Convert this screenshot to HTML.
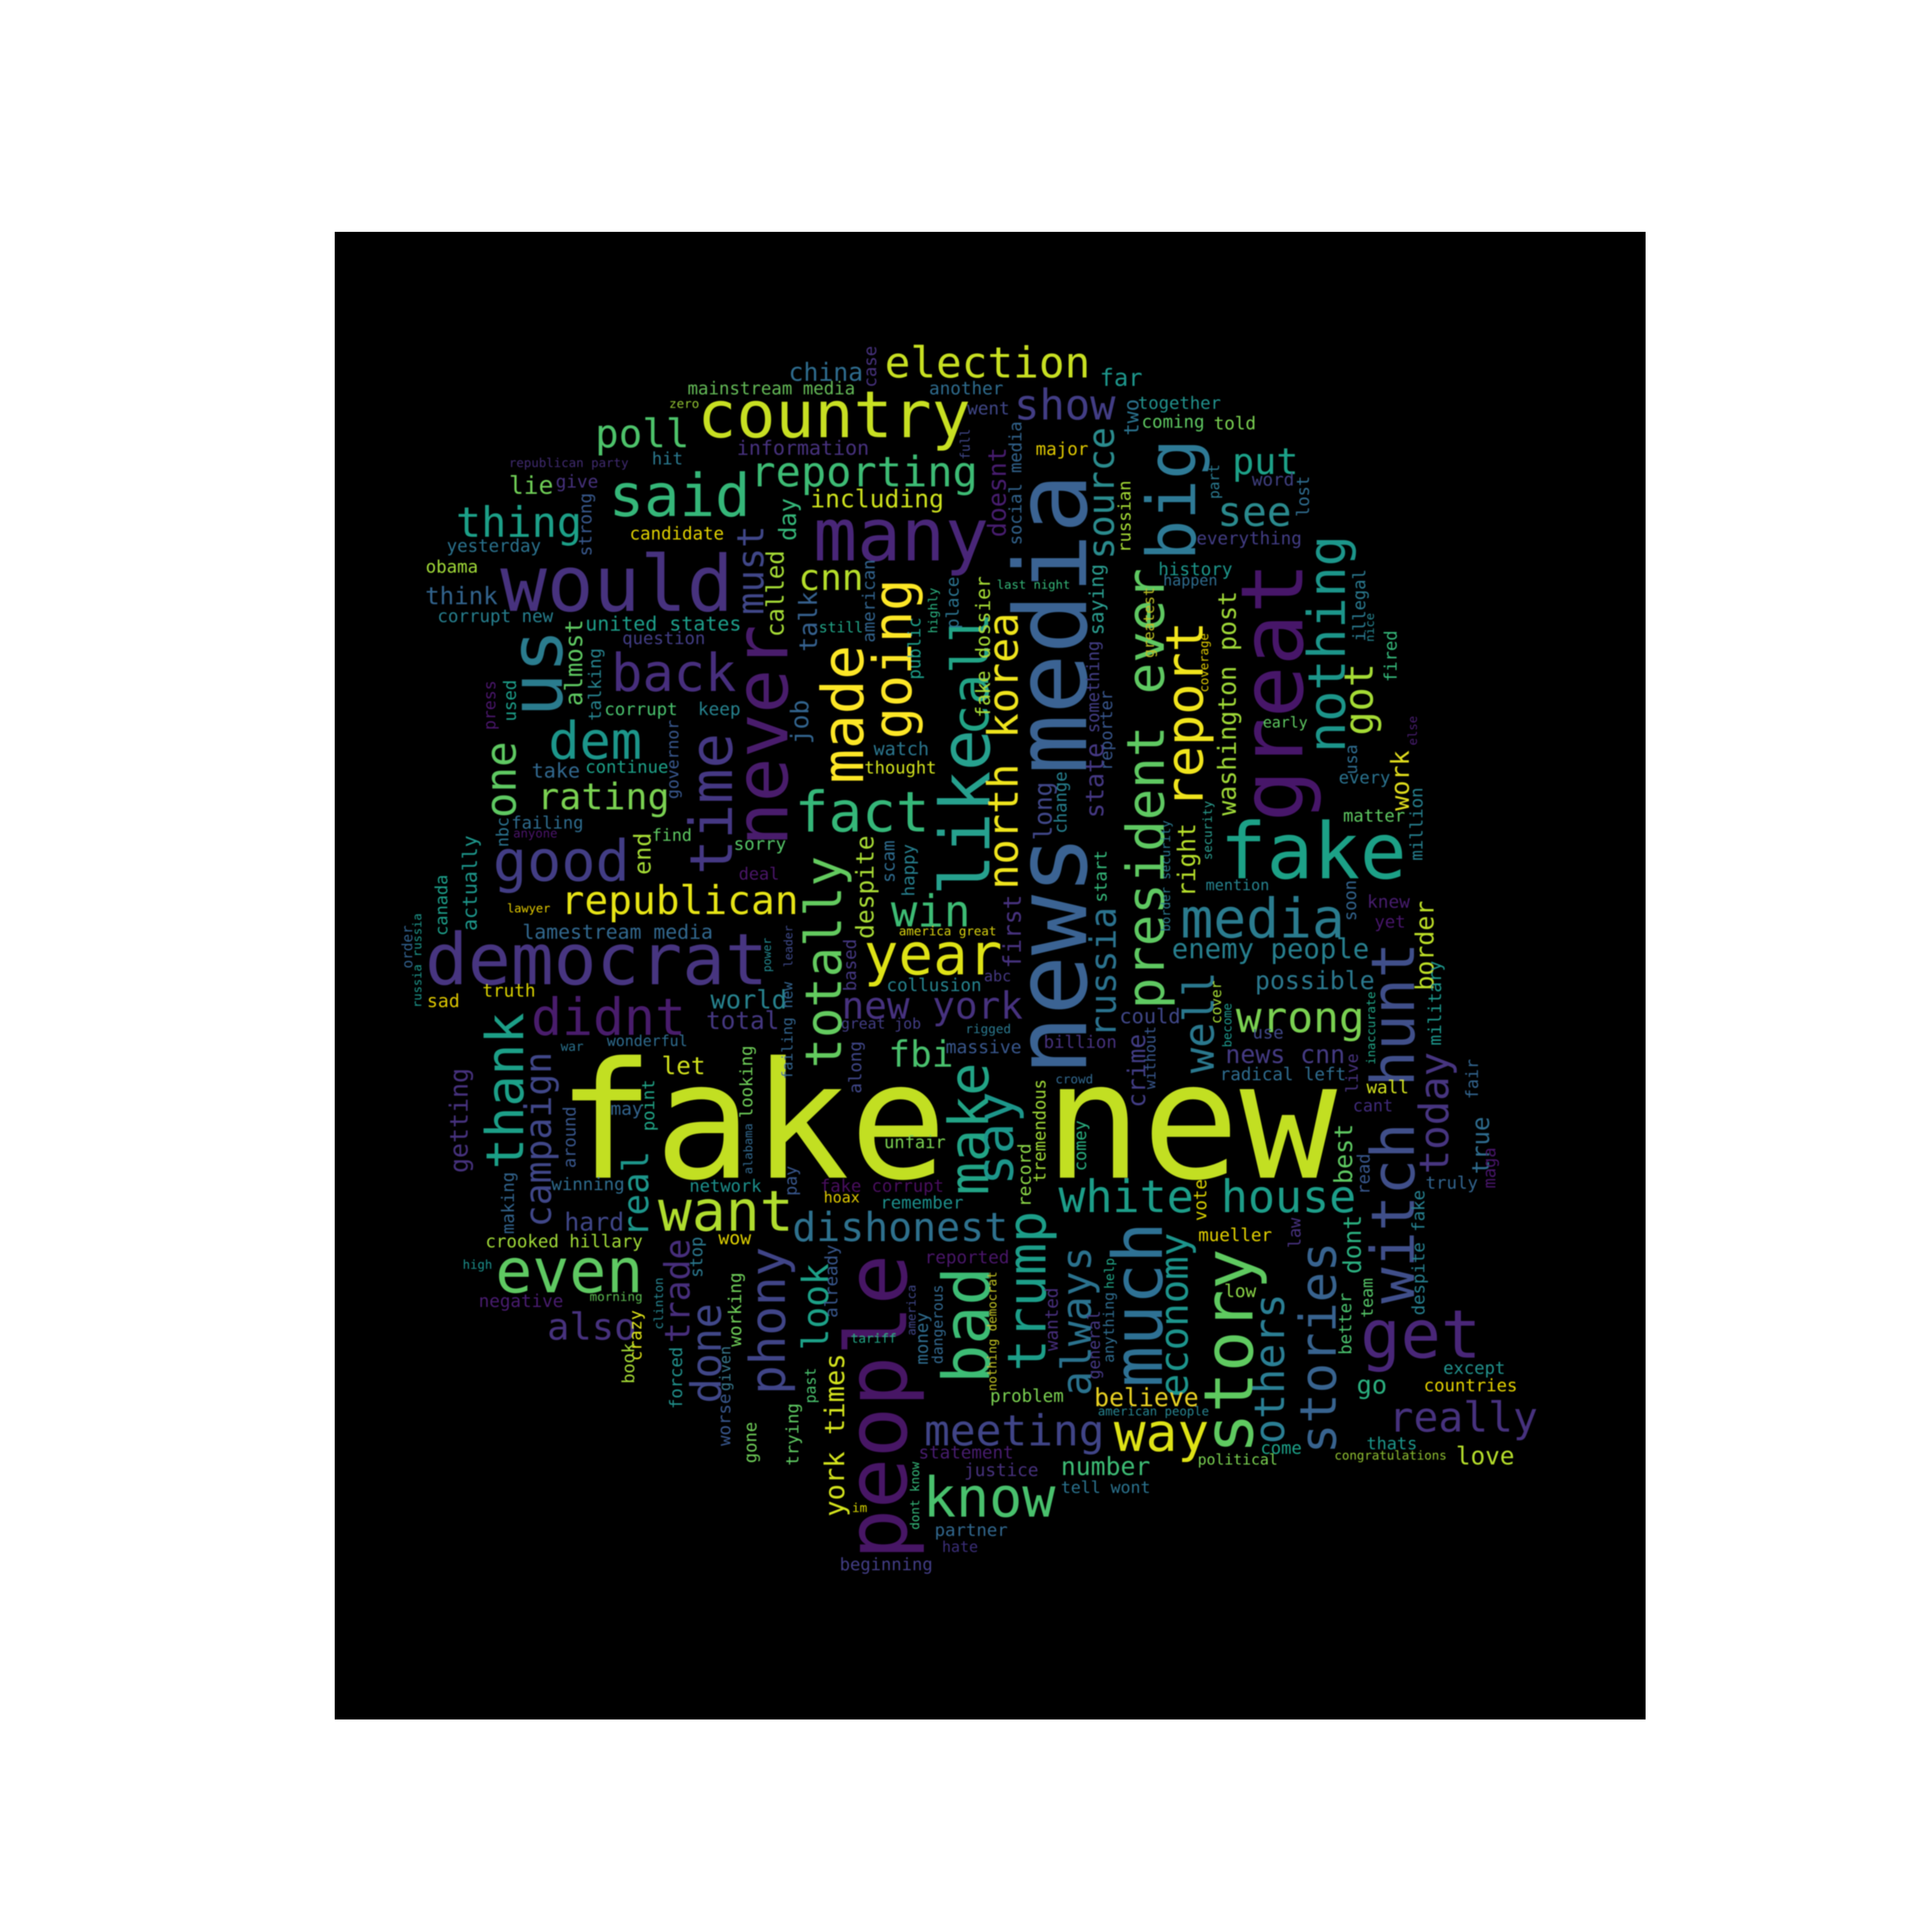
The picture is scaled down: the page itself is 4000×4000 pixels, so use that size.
<!DOCTYPE html>
<html lang="en">
<head>
<meta charset="utf-8">
<title>Word cloud</title>
<style>
html,body{margin:0;padding:0;background:#fff;width:4000px;height:4000px;overflow:hidden}
svg{display:block}
text{font-family:"DejaVu Sans Mono","Liberation Mono",monospace;white-space:pre}
</style>
</head>
<body>
<svg xmlns="http://www.w3.org/2000/svg" width="4000" height="4000" viewBox="0 0 4000 4000">
<defs><filter id="soft" x="0" y="0" width="1" height="1" filterUnits="objectBoundingBox"><feGaussianBlur stdDeviation="0.4"/></filter></defs>
<rect width="4000" height="4000" fill="#ffffff"/>
<rect x="693" y="480" width="2714" height="3080" fill="#000000"/>
<g id="words" transform="scale(2.55102)" filter="url(#soft)">
<text x="452" y="955.8" font-size="129" fill="#c2df23">fake new</text>
<text transform="translate(881.5 873) rotate(-90)" font-size="80" fill="#3a6493">news media</text>
<text transform="translate(735.5 1266) rotate(-90)" font-size="67" fill="#471365">people</text>
<text transform="translate(1057 667) rotate(-90)" font-size="68" fill="#471569">great</text>
<text x="990" y="712.8" font-size="60.6" fill="#1fa187">fake</text>
<text x="406" y="495.8" font-size="61" fill="#46327e">would</text>
<text x="345" y="798.8" font-size="56.7" fill="#463480">democrat</text>
<text x="660" y="454.8" font-size="57" fill="#482878">many</text>
<text transform="translate(639 687) rotate(-90)" font-size="58" fill="#481a6c">never</text>
<text transform="translate(803 727) rotate(-90)" font-size="54" fill="#25a18e">like</text>
<text x="566" y="354.8" font-size="51.5" fill="#c8e020">country</text>
<text transform="translate(1016.5 1180) rotate(-90)" font-size="53.7" fill="#5fca61">story</text>
<text transform="translate(943 1126) rotate(-90)" font-size="53.7" fill="#2f7194">much</text>
<text x="1104" y="1101.8" font-size="51.6" fill="#482878">get</text>
<text transform="translate(970 455) rotate(-90)" font-size="52" fill="#2f7a96">big</text>
<text transform="translate(802.8 1123) rotate(-90)" font-size="50" fill="#3dbc74">bad</text>
<text x="402" y="1048.8" font-size="48" fill="#5ec962">even</text>
<text transform="translate(1147.6 1058) rotate(-90)" font-size="48" fill="#414f8a">witch hunt</text>
<text x="494" y="418.8" font-size="46" fill="#35b779">said</text>
<text transform="translate(594 710) rotate(-90)" font-size="46" fill="#443983">time</text>
<text transform="translate(700.6 636) rotate(-90)" font-size="45" fill="#fde725">made</text>
<text x="701" y="790.8" font-size="45" fill="#dfe318">year</text>
<text x="534" y="998.8" font-size="44" fill="#b0dd2f">want</text>
<text x="400" y="714.8" font-size="44.4" fill="#433e85">good</text>
<text x="645" y="674.8" font-size="43.75" fill="#35b779">fact</text>
<text x="958" y="760.8" font-size="43" fill="#2c7c8f">media</text>
<text x="749" y="1230.9" font-size="43" fill="#4ac16d">know</text>
<text transform="translate(802 970) rotate(-90)" font-size="43" fill="#20a486">make</text>
<text transform="translate(739.6 600) rotate(-90)" font-size="42" fill="#fde725">going</text>
<text transform="translate(848.5 1113) rotate(-90)" font-size="42" fill="#1f9e89">trump</text>
<text transform="translate(944.5 819) rotate(-90)" font-size="42" fill="#5ec962">president ever</text>
<text transform="translate(976 656) rotate(-90)" font-size="41" fill="#f1e51d">report</text>
<text transform="translate(1091.5 611) rotate(-90)" font-size="41" fill="#1f968b">nothing</text>
<text transform="translate(424.6 949) rotate(-90)" font-size="41" fill="#1fa088">thank</text>
<text x="904" y="1177.6" font-size="40.7" fill="#dfe318">way</text>
<text x="496" y="560.8" font-size="40.6" fill="#472f7d">back</text>
<text x="431" y="839.8" font-size="40.5" fill="#481a6c">didnt</text>
<text transform="translate(682.6 867) rotate(-90)" font-size="40" fill="#63cb5f">totally</text>
<text x="445" y="615.8" font-size="40" fill="#1f968b">dem</text>
<text transform="translate(802 597) rotate(-90)" font-size="40" fill="#20a486">call</text>
<text transform="translate(822 962) rotate(-90)" font-size="40" fill="#1f968b">say</text>
<text transform="translate(1084 1180) rotate(-90)" font-size="40" fill="#38648f">stories</text>
<text transform="translate(637 1132) rotate(-90)" font-size="38.7" fill="#414487">phony</text>
<text x="859" y="983.8" font-size="36" fill="#1f9e89">white house</text>
<text x="718" y="306.4" font-size="34" fill="#c8e020">election</text>
<text x="750" y="1173" font-size="34" fill="#414487">meeting</text>
<text x="723" y="751.8" font-size="34" fill="#3dbc74">win</text>
<text x="609" y="394.8" font-size="33.5" fill="#3dbc74">reporting</text>
<text transform="translate(826 722) rotate(-90)" font-size="33.5" fill="#f0e51d">north korea</text>
<text x="1003" y="837.8" font-size="33.7" fill="#7ad151">wrong</text>
<text x="370" y="435.8" font-size="33" fill="#1fa088">thing</text>
<text x="823" y="340.4" font-size="32.9" fill="#433e85">show</text>
<text transform="translate(1042.2 1172) rotate(-90)" font-size="33" fill="#2c7f94">others</text>
<text transform="translate(985 871) rotate(-90)" font-size="33" fill="#2a788e">well</text>
<text transform="translate(418.6 664) rotate(-90)" font-size="32.8" fill="#5ec962">one</text>
<text transform="translate(885.4 1133) rotate(-90)" font-size="32.8" fill="#2c728e">always</text>
<text x="1127" y="1161.9" font-size="32.7" fill="#46327e">really</text>
<text transform="translate(585 1139) rotate(-90)" font-size="32.5" fill="#3f4788">done</text>
<text transform="translate(1175.5 953) rotate(-90)" font-size="32" fill="#463480">today</text>
<text x="643" y="1007.2" font-size="31.8" fill="#2d718e">dishonest</text>
<text x="988" y="426.8" font-size="31.7" fill="#2a8a8e">see</text>
<text x="455" y="741.8" font-size="31.6" fill="#e7e419">republican</text>
<text transform="translate(964 1134) rotate(-90)" font-size="31" fill="#1f948c">economy</text>
<text transform="translate(1114 597) rotate(-90)" font-size="31" fill="#a5db36">got</text>
<text x="483" y="363" font-size="30.6" fill="#4ec36b">poll</text>
<text x="683" y="826.8" font-size="30" fill="#46337f">new york</text>
<text transform="translate(904 454) rotate(-90)" font-size="29" fill="#2b8c8e">source</text>
<text x="436" y="656.8" font-size="29" fill="#7ad151">rating</text>
<text transform="translate(447 996) rotate(-90)" font-size="29" fill="#3f4788">campaign</text>
<text x="444" y="1087.2" font-size="29" fill="#46327e">also</text>
<text transform="translate(619.6 499) rotate(-90)" font-size="29" fill="#3f4788">must</text>
<text transform="translate(905.5 842) rotate(-90)" font-size="28.6" fill="#2c728e">russia</text>
<text transform="translate(672 1096) rotate(-90)" font-size="28.3" fill="#1fa188">look</text>
<text x="1000" y="384.8" font-size="28.3" fill="#1fa188">put</text>
<text transform="translate(526 1004) rotate(-90)" font-size="28" fill="#1f968b">real</text>
<text x="648" y="478.8" font-size="27.8" fill="#b5de2b">cnn</text>
<text x="721" y="865.8" font-size="27.8" fill="#4ac16d">fbi</text>
<text transform="translate(559.6 1090) rotate(-90)" font-size="27.3" fill="#472d7b">trade</text>
<text transform="translate(456 582) rotate(-90)" font-size="55" fill="#2b7c8e">us</text>
<text x="951" y="777.8" font-size="21.9" fill="#277f8e">enemy people</text>
<text transform="translate(685 1231) rotate(-90)" font-size="21.7" fill="#d2e21b">york times</text>
<text transform="translate(1003 662) rotate(-90)" font-size="20" fill="#a0da39">washington post</text>
<text x="576.6" y="818.4" font-size="20" fill="#26828e">world</text>
<text x="640" y="309" font-size="19.5" fill="#2f6c8e">china</text>
<text x="888" y="1141.4" font-size="19.7" fill="#e8d020">believe</text>
<text x="657.6" y="411.8" font-size="19.7" fill="#cde11d">including</text>
<text transform="translate(1163.5 804) rotate(-90)" font-size="19.7" fill="#bddf26">border</text>
<text transform="translate(816.4 436) rotate(-90)" font-size="19.7" fill="#471d6e">doesnt</text>
<text transform="translate(895.6 664) rotate(-90)" font-size="19.7" fill="#443983">state</text>
<text transform="translate(709 762) rotate(-90)" font-size="19.5" fill="#a8db34">despite</text>
<text x="861" y="1197.2" font-size="19.6" fill="#3dbc74">number</text>
<text transform="translate(1097.5 961) rotate(-90)" font-size="19.6" fill="#5ec962">best</text>
<text transform="translate(1143.4 658) rotate(-90)" font-size="19.6" fill="#dfdb1a">work</text>
<text transform="translate(663 529) rotate(-90)" font-size="19.6" fill="#35608d">talk</text>
<text transform="translate(379.5 952) rotate(-90)" font-size="19.8" fill="#46327e">getting</text>
<text x="1018.5" y="802.8" font-size="19.8" fill="#2a788e">possible</text>
<text x="994.5" y="862.8" font-size="19.8" fill="#443a83">news cnn</text>
<text x="458" y="998.8" font-size="19.4" fill="#3f4788">hard</text>
<text transform="translate(828.4 786) rotate(-90)" font-size="19.3" fill="#46327e">first</text>
<text transform="translate(970 728) rotate(-90)" font-size="19.3" fill="#b5de2b">right</text>
<text transform="translate(929.5 899) rotate(-90)" font-size="19.3" fill="#433e85">crime</text>
<text x="573" y="835.2" font-size="19.2" fill="#453781">total</text>
<text transform="translate(1104.4 1034) rotate(-90)" font-size="19.2" fill="#29af7f">dont</text>
<text x="345" y="490.4" font-size="19" fill="#33638d">think</text>
<text x="413" y="400.8" font-size="19" fill="#6fcf57">lie</text>
<text transform="translate(636 517) rotate(-90)" font-size="19" fill="#a5db36">called</text>
<text transform="translate(472.6 573) rotate(-90)" font-size="19" fill="#5ec962">almost</text>
<text transform="translate(656 604) rotate(-90)" font-size="19" fill="#33638d">job</text>
<text transform="translate(853.6 682) rotate(-90)" font-size="19" fill="#3f4788">long</text>
<text x="1101" y="1131.2" font-size="19" fill="#29af7f">go</text>
<text x="1181.6" y="1188.6" font-size="19" fill="#b5de2b">love</text>
<text transform="translate(1208.5 953) rotate(-90)" font-size="18.7" fill="#2f6c8e">true</text>
<text x="537" y="871.8" font-size="18.7" fill="#d2e21b">let</text>
<text x="892.5" y="313.2" font-size="18.3" fill="#1f968b">far</text>
<text transform="translate(646 439) rotate(-90)" font-size="18.3" fill="#35b779">day</text>
<text transform="translate(528 710) rotate(-90)" font-size="18" fill="#a5db36">end</text>
<text x="475" y="511.8" font-size="16" fill="#1f9e89">united states</text>
<text x="598" y="369" font-size="16" fill="#46327e">information</text>
<text x="424" y="761.8" font-size="15.9" fill="#31688e">lamestream media</text>
<text x="908.5" y="830.4" font-size="16" fill="#3f4788">could</text>
<text transform="translate(387 755.5) rotate(-90)" font-size="15.8" fill="#1f968b">actually</text>
<text x="431.5" y="631.2" font-size="15.7" fill="#31688e">take</text>
<text transform="translate(803.5 582.5) rotate(-90)" font-size="15.7" fill="#a5db36">fake dossier</text>
<text transform="translate(895.5 515.5) rotate(-90)" font-size="15.6" fill="#2a9d8f">saying</text>
<text transform="translate(924 353.5) rotate(-90)" font-size="15.6" fill="#2c728e">two</text>
<text x="558" y="320" font-size="14" fill="#63b957">mainstream media</text>
<text x="754" y="320" font-size="14" fill="#2f6c8e">another</text>
<text transform="translate(711 314.5) rotate(-90)" font-size="13.5" fill="#46327e">case</text>
<text x="451" y="395.8" font-size="13.8" fill="#46327e">give</text>
<text transform="translate(480 451.5) rotate(-90)" font-size="13.9" fill="#38598c">strong</text>
<text x="511" y="437.8" font-size="13.9" fill="#e0d000">candidate</text>
<text x="362.5" y="447.8" font-size="13.9" fill="#2c728e">yesterday</text>
<text x="345.5" y="464.8" font-size="13.7" fill="#a0da39">obama</text>
<text transform="translate(710 521.5) rotate(-90)" font-size="13.75" fill="#33638d">american</text>
<text transform="translate(778 510.5) rotate(-90)" font-size="13.7" fill="#2c728e">place</text>
<text x="355" y="504.8" font-size="14" fill="#277f8e">corrupt new</text>
<text transform="translate(747 551.5) rotate(-90)" font-size="13.6" fill="#1f9e89">public</text>
<text x="505" y="522.8" font-size="13.75" fill="#433e85">question</text>
<text transform="translate(487.6 585) rotate(-90)" font-size="13.7" fill="#26828e">talking</text>
<text transform="translate(402 592.5) rotate(-90)" font-size="13" fill="#48186a">press</text>
<text transform="translate(418.6 585.5) rotate(-90)" font-size="13.5" fill="#1f9e89">used</text>
<text x="490.5" y="580.4" font-size="13.8" fill="#4ac16d">corrupt</text>
<text x="566.5" y="580.4" font-size="13.8" fill="#26828e">keep</text>
<text transform="translate(550.6 648.5) rotate(-90)" font-size="13.1" fill="#39568c">governor</text>
<text x="475" y="627.2" font-size="13.75" fill="#1fa188">continue</text>
<text x="709" y="612.8" font-size="14.5" fill="#2a768e">watch</text>
<text x="701.5" y="627.8" font-size="13.6" fill="#d2e21b">thought</text>
<text transform="translate(412.6 687.5) rotate(-90)" font-size="12.8" fill="#2c728e">nbc</text>
<text x="415" y="672.4" font-size="13.6" fill="#2f6c8e">failing</text>
<text x="529" y="682.4" font-size="13" fill="#5ec962">find</text>
<text x="595.5" y="689.8" font-size="13.7" fill="#55c667">sorry</text>
<text transform="translate(726 716.5) rotate(-90)" font-size="13.75" fill="#2f6c8e">scam</text>
<text transform="translate(742 727.5) rotate(-90)" font-size="13.7" fill="#277f8e">happy</text>
<text x="599.5" y="713.8" font-size="13.2" fill="#481467">deal</text>
<text transform="translate(363 759.5) rotate(-90)" font-size="13.4" fill="#1f9e89">canada</text>
<text transform="translate(694.6 804.5) rotate(-90)" font-size="13.7" fill="#453781">based</text>
<text x="719.5" y="804.4" font-size="14" fill="#25838e">collusion</text>
<text x="391.5" y="808.8" font-size="13.9" fill="#d8d000">truth</text>
<text x="346.5" y="817.4" font-size="14" fill="#dbc500">sad</text>
<text transform="translate(610.6 907.5) rotate(-90)" font-size="13.7" fill="#6ece58">looking</text>
<text transform="translate(699 887.5) rotate(-90)" font-size="13.7" fill="#3f4788">along</text>
<text x="767.5" y="854.8" font-size="14.3" fill="#39568c">massive</text>
<text transform="translate(531 918) rotate(-90)" font-size="13.5" fill="#20a486">point</text>
<text x="495.5" y="904.8" font-size="13.7" fill="#33638d">may</text>
<text transform="translate(467 948) rotate(-90)" font-size="13.5" fill="#39568c">around</text>
<text x="717.5" y="931.8" font-size="13.5" fill="#7ad151">unfair</text>
<text transform="translate(417 1001.5) rotate(-90)" font-size="13.6" fill="#33638d">making</text>
<text transform="translate(646.6 970.5) rotate(-90)" font-size="12.8" fill="#39568c">pay</text>
<text x="447.5" y="965.8" font-size="13.8" fill="#2f6c8e">winning</text>
<text x="559.5" y="967.2" font-size="13.6" fill="#1f8f8b">network</text>
<text x="665.5" y="967.2" font-size="13.75" fill="#4a0b5f">fake corrupt</text>
<text x="668.5" y="975.8" font-size="11.7" fill="#dfc800">hoax</text>
<text x="714.5" y="980.8" font-size="13.75" fill="#1f8f8b">remember</text>
<text x="394" y="1012.4" font-size="14" fill="#a0da39">crooked hillary</text>
<text x="583" y="1009.8" font-size="14" fill="#dfd000">wow</text>
<text transform="translate(570 1037) rotate(-90)" font-size="13.3" fill="#2a788e">stop</text>
<text x="388.5" y="1060.8" font-size="14" fill="#481f70">negative</text>
<text transform="translate(520.6 1104.5) rotate(-90)" font-size="13.3" fill="#dfe318">crazy</text>
<text transform="translate(514.6 1123) rotate(-90)" font-size="13.2" fill="#a5db36">book</text>
<text transform="translate(601.6 1093) rotate(-90)" font-size="14" fill="#6ece58">working</text>
<text transform="translate(679.6 1069.5) rotate(-90)" font-size="13.8" fill="#39568c">already</text>
<text x="750.5" y="1025.2" font-size="14" fill="#481769">reported</text>
<text transform="translate(753 1107.5) rotate(-90)" font-size="13.7" fill="#2f6c8e">money</text>
<text transform="translate(553.6 1143.5) rotate(-90)" font-size="13.6" fill="#21918c">forced</text>
<text transform="translate(592.8 1173.5) rotate(-90)" font-size="13.7" fill="#39568c">worse</text>
<text transform="translate(613.8 1187.5) rotate(-90)" font-size="13.4" fill="#6ece58">gone</text>
<text transform="translate(648 1189.5) rotate(-90)" font-size="13.7" fill="#5ec962">trying</text>
<text x="745.5" y="1183.6" font-size="14" fill="#471d6e">statement</text>
<text x="782.5" y="1197.9" font-size="14" fill="#46327e">justice</text>
<text x="758.5" y="1246.6" font-size="13.8" fill="#31688e">partner</text>
<text x="681.5" y="1274.4" font-size="13.7" fill="#433e85">beginning</text>
<text transform="translate(836.5 979.5) rotate(-90)" font-size="13.9" fill="#8bd646">record</text>
<text transform="translate(848.5 959.5) rotate(-90)" font-size="13.7" fill="#a0da39">tremendous</text>
<text transform="translate(865.6 676.5) rotate(-90)" font-size="13.6" fill="#277f8e">change</text>
<text transform="translate(898 732.5) rotate(-90)" font-size="13.7" fill="#35b779">start</text>
<text transform="translate(902.5 625.5) rotate(-90)" font-size="13.3" fill="#39568c">reporter</text>
<text transform="translate(892 595) rotate(-90)" font-size="13.6" fill="#433e85">something</text>
<text x="847" y="850.4" font-size="13.8" fill="#46327e">billion</text>
<text transform="translate(881.5 950.5) rotate(-90)" font-size="13.3" fill="#29af7f">comey</text>
<text x="1016.5" y="842.8" font-size="13.3" fill="#3f4788">use</text>
<text transform="translate(1169.5 848.5) rotate(-90)" font-size="14" fill="#1f968b">military</text>
<text x="1115.5" y="752.8" font-size="13.3" fill="#47176a">yet</text>
<text x="1109.5" y="736.8" font-size="13.9" fill="#471d6e">knew</text>
<text transform="translate(1100.5 747.5) rotate(-90)" font-size="13.3" fill="#33638d">soon</text>
<text x="1090" y="666.8" font-size="13.6" fill="#5ec962">matter</text>
<text transform="translate(1154.5 698.5) rotate(-90)" font-size="13.8" fill="#277f8e">million</text>
<text x="1086.5" y="635.8" font-size="13.5" fill="#2c728e">every</text>
<text transform="translate(1101.4 628.5) rotate(-90)" font-size="12.8" fill="#2f6c8e">usa</text>
<text transform="translate(1108 520.5) rotate(-90)" font-size="13.6" fill="#2a788e">illegal</text>
<text transform="translate(1133.5 553.5) rotate(-90)" font-size="13.5" fill="#35b779">fired</text>
<text x="940" y="466.8" font-size="14" fill="#1f968b">history</text>
<text x="971" y="441.8" font-size="14" fill="#433e85">everything</text>
<text x="1016" y="394.2" font-size="13.75" fill="#3f3f80">word</text>
<text transform="translate(1062.4 419.5) rotate(-90)" font-size="13.3" fill="#2f6c8e">lost</text>
<text transform="translate(917.5 448.5) rotate(-90)" font-size="13.6" fill="#a5db36">russian</text>
<text x="923.5" y="331.8" font-size="13.75" fill="#21918c">together</text>
<text x="926.5" y="347.2" font-size="13.8" fill="#5ec962">coming</text>
<text x="985" y="348.4" font-size="13.75" fill="#7ad151">told</text>
<text x="785" y="336.4" font-size="13.75" fill="#3f4788">went</text>
<text x="840.5" y="369.2" font-size="13.8" fill="#dfc800">major</text>
<text transform="translate(829 442.5) rotate(-90)" font-size="13.75" fill="#33638d">social media</text>
<text x="803.5" y="1137.8" font-size="13.9" fill="#7ad151">problem</text>
<text x="861" y="1211.7" font-size="13.2" fill="#2c728e">tell wont</text>
<text x="1023" y="1180" font-size="13.4" fill="#1fa188">come</text>
<text x="1109" y="1176.2" font-size="13.3" fill="#1f968b">thats</text>
<text x="1155.5" y="1129.2" font-size="13.8" fill="#e3d000">countries</text>
<text x="1171.3" y="1115" font-size="13.6" fill="#21918c">except</text>
<text transform="translate(979 991) rotate(-90)" font-size="13.6" fill="#d8d000">vote</text>
<text x="972.5" y="1007.2" font-size="13.9" fill="#e3d000">mueller</text>
<text x="993.5" y="1052.8" font-size="13.7" fill="#8bd646">low</text>
<text transform="translate(1096.6 1099.5) rotate(-90)" font-size="13.6" fill="#4ac16d">better</text>
<text transform="translate(1114 1069.5) rotate(-90)" font-size="12.9" fill="#55c667">team</text>
<text transform="translate(1156 1067.5) rotate(-90)" font-size="13.9" fill="#277f8e">despite fake</text>
<text transform="translate(1111.6 969.5) rotate(-90)" font-size="13.3" fill="#39568c">read</text>
<text x="1109" y="887.2" font-size="13.75" fill="#d2e21b">wall</text>
<text x="1098" y="902" font-size="13" fill="#3f2a7a">cant</text>
<text transform="translate(1102 887) rotate(-90)" font-size="12.8" fill="#46327e">live</text>
<text x="990" y="876.8" font-size="14" fill="#2f6c8e">radical left</text>
<text transform="translate(1199.5 892) rotate(-90)" font-size="13" fill="#33638d">fair</text>
<text x="1157" y="964.8" font-size="13.7" fill="#33638d">truly</text>
<text transform="translate(1213.6 964.5) rotate(-90)" font-size="13.3" fill="#471569">maga</text>
<text transform="translate(1055.5 1013) rotate(-90)" font-size="13" fill="#46327e">law</text>
<text transform="translate(858.4 1096.5) rotate(-90)" font-size="13.9" fill="#472d7b">wanted</text>
<text transform="translate(892.6 1119.5) rotate(-90)" font-size="13" fill="#443983">general</text>
<text x="543" y="331" font-size="9.8" fill="#8fbf30">zero</text>
<text transform="translate(787 373) rotate(-90)" font-size="10" fill="#3f4788">full</text>
<text x="413" y="379" font-size="10" fill="#3f2a70">republican party</text>
<text x="529" y="377" font-size="13.3" fill="#2a788e">hit</text>
<text transform="translate(760.6 514) rotate(-90)" font-size="10" fill="#29af7f">highly</text>
<text x="664.5" y="513.2" font-size="11.6" fill="#20a486">still</text>
<text x="416.5" y="679.8" font-size="9.7" fill="#481769">anyone</text>
<text x="411.5" y="740.4" font-size="9.5" fill="#e0c800">lawyer</text>
<text x="729.5" y="759.2" font-size="10" fill="#d8d010">america great</text>
<text transform="translate(334.6 786) rotate(-90)" font-size="11.3" fill="#31608c">order</text>
<text transform="translate(342 818) rotate(-90)" font-size="9.7" fill="#1f968b">russia russia</text>
<text transform="translate(625.6 789) rotate(-90)" font-size="9" fill="#24878e">power</text>
<text transform="translate(643 785) rotate(-90)" font-size="9.2" fill="#3e4989">leader</text>
<text x="798.5" y="796.4" font-size="11.7" fill="#453781">abc</text>
<text x="783.5" y="838.4" font-size="10" fill="#2a788e">rigged</text>
<text x="682.5" y="834.8" font-size="11.8" fill="#433e85">great job</text>
<text transform="translate(643 876) rotate(-90)" font-size="11.8" fill="#33638d">failing new</text>
<text x="492.5" y="848.8" font-size="11.9" fill="#2f6c8e">wonderful</text>
<text x="455" y="852.8" font-size="9.8" fill="#2c728e">war</text>
<text transform="translate(610.6 953) rotate(-90)" font-size="9.6" fill="#31688e">alabama</text>
<text x="375.5" y="1029.8" font-size="9.6" fill="#1f8f8b">high</text>
<text x="478.5" y="1055.8" font-size="10" fill="#5ab84f">morning</text>
<text transform="translate(538 1079) rotate(-90)" font-size="9.8" fill="#26828e">clinton</text>
<text transform="translate(743 1084) rotate(-90)" font-size="9.6" fill="#3f4788">america</text>
<text transform="translate(765 1107) rotate(-90)" font-size="11.7" fill="#31688e">dangerous</text>
<text x="690.5" y="1089.8" font-size="10" fill="#20a486">tariff</text>
<text transform="translate(592.8 1129) rotate(-90)" font-size="11.8" fill="#39778c">given</text>
<text transform="translate(661.8 1139) rotate(-90)" font-size="11.6" fill="#4ac16d">past</text>
<text x="691.5" y="1227.2" font-size="9.5" fill="#d2d000">im</text>
<text transform="translate(746 1241.5) rotate(-90)" font-size="10" fill="#35b779">dont know</text>
<text x="764.5" y="1259.4" font-size="11.7" fill="#3b2f78">hate</text>
<text x="809" y="477.8" font-size="9.75" fill="#35b779">last night</text>
<text transform="translate(937.6 884) rotate(-90)" font-size="11.9" fill="#39568c">without</text>
<text x="856.5" y="879.2" font-size="9.9" fill="#31688e">crowd</text>
<text transform="translate(991 831) rotate(-90)" font-size="11.3" fill="#a5db36">cover</text>
<text transform="translate(999.4 850) rotate(-90)" font-size="9.7" fill="#1f968b">become</text>
<text transform="translate(1116 864) rotate(-90)" font-size="9.7" fill="#20a486">inaccurate</text>
<text x="978.5" y="722.4" font-size="12" fill="#26828e">mention</text>
<text transform="translate(949.6 756) rotate(-90)" font-size="9.9" fill="#2a788e">border security</text>
<text transform="translate(983.5 698) rotate(-90)" font-size="9.8" fill="#2a9d8f">security</text>
<text transform="translate(980.5 562) rotate(-90)" font-size="9.8" fill="#d8c500">coverage</text>
<text transform="translate(936.4 534) rotate(-90)" font-size="11.7" fill="#bcbf20">greatest</text>
<text x="1025" y="590.4" font-size="11.7" fill="#5ec962">early</text>
<text transform="translate(1150 605) rotate(-90)" font-size="9.6" fill="#471d6e">else</text>
<text transform="translate(1115 521) rotate(-90)" font-size="9.4" fill="#26828e">nice</text>
<text x="944" y="475.2" font-size="11.9" fill="#2f6c8e">happen</text>
<text transform="translate(989.5 405) rotate(-90)" font-size="11.3" fill="#2a788e">part</text>
<text x="891" y="1148.8" font-size="9.9" fill="#26828e">american people</text>
<text x="972" y="1188.6" font-size="11.8" fill="#7ad151">political</text>
<text x="1083" y="1184.7" font-size="10" fill="#8fbf30">congratulations</text>
<text transform="translate(904 1106) rotate(-90)" font-size="11.7" fill="#2f6c8e">anything</text>
<text transform="translate(904 1046) rotate(-90)" font-size="10" fill="#20a486">help</text>
<text transform="translate(808.6 1129) rotate(-90)" font-size="10" fill="#bfc020">nothing democrat</text>
</g>
</svg>
<script>
document.querySelectorAll('#words text').forEach(function(t){
  var n=t.textContent.length;
  t.setAttribute('font-size',(parseFloat(t.getAttribute('font-size'))*n/(n-0.15)).toFixed(2));
});
</script>
</body>
</html>
